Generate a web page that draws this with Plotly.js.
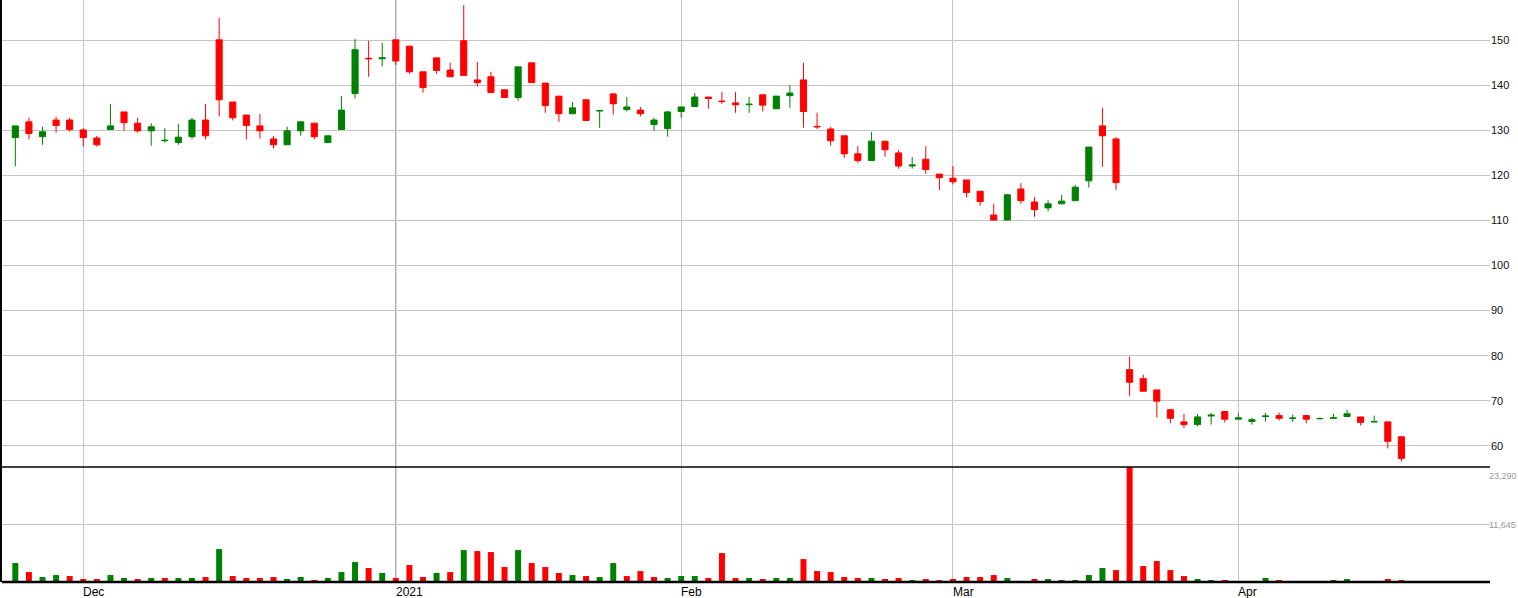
<!DOCTYPE html>
<html>
<head>
<meta charset="utf-8">
<script src="https://cdn.plot.ly/plotly-3.0.1.min.js"></script>
<style>html,body{margin:0;padding:0;background:#fff;}#chart{width:1518px;height:598px;}</style>
</head>
<body>
<div id="chart"></div>
<script>
var dates = [
 '2020-11-24','2020-11-25','2020-11-26','2020-11-27','2020-11-30',
 '2020-12-01','2020-12-02','2020-12-03','2020-12-04','2020-12-07','2020-12-08','2020-12-09','2020-12-10','2020-12-11',
 '2020-12-14','2020-12-15','2020-12-16','2020-12-17','2020-12-18','2020-12-21','2020-12-22','2020-12-23','2020-12-24',
 '2020-12-25','2020-12-28','2020-12-29','2020-12-30','2020-12-31',
 '2021-01-01','2021-01-04','2021-01-05','2021-01-06','2021-01-07','2021-01-08','2021-01-11','2021-01-12','2021-01-13',
 '2021-01-14','2021-01-15','2021-01-18','2021-01-19','2021-01-20','2021-01-21','2021-01-22','2021-01-25','2021-01-26',
 '2021-01-27','2021-01-28','2021-01-29',
 '2021-02-01','2021-02-02','2021-02-03','2021-02-04','2021-02-05','2021-02-08','2021-02-09','2021-02-10','2021-02-11',
 '2021-02-12','2021-02-15','2021-02-16','2021-02-17','2021-02-18','2021-02-19','2021-02-22','2021-02-23','2021-02-24',
 '2021-02-25','2021-02-26',
 '2021-03-01','2021-03-02','2021-03-03','2021-03-04','2021-03-05','2021-03-08','2021-03-09','2021-03-10','2021-03-11',
 '2021-03-12','2021-03-15','2021-03-16','2021-03-17','2021-03-22','2021-03-23','2021-03-24','2021-03-25','2021-03-26',
 '2021-03-29','2021-03-30','2021-03-31',
 '2021-04-01','2021-04-02','2021-04-05','2021-04-06','2021-04-07','2021-04-08','2021-04-09','2021-04-12','2021-04-13',
 '2021-04-14','2021-04-15','2021-04-16','2021-04-19'
];

var openP = [
 128.4,131.9,128.6,132.3,132.3,130.1,128.3,130.2,134.1,131.6,129.9,127.7,127.3,128.6,132.3,150.1,136.3,133.4,131.0,128.1,
 126.8,129.9,131.6,127.3,130.2,138.2,146.0,145.9,150.1,148.7,143.0,146.1,143.4,149.9,141.2,141.9,139.0,137.3,145.0,140.5,
 137.6,133.7,136.8,134.3,138.1,134.6,134.5,131.3,130.4,134.2,135.3,137.4,136.5,136.1,135.7,137.9,134.8,137.7,141.2,130.9,
 130.3,128.8,124.8,123.3,127.6,125.0,122.1,123.6,120.3,119.4,119.0,116.5,111.2,110.1,117.0,114.1,112.8,113.7,114.4,118.8,
 131.0,128.1,76.9,74.9,72.4,68.0,65.3,64.7,66.6,67.6,65.9,65.4,66.5,66.7,66.05,66.7,66.0,66.1,66.5,66.4,
 65.3,65.3,62.0
];
var highP = [
 131.0,132.8,130.8,133.0,132.8,130.5,128.8,135.9,134.1,132.8,131.6,130.5,131.4,132.8,135.9,155.0,136.3,133.4,133.6,128.8,
 130.8,131.9,131.6,128.8,137.6,150.3,149.9,149.4,150.1,148.7,143.0,146.1,145.0,157.8,145.2,143.0,139.0,144.1,145.0,140.5,
 137.6,136.3,136.8,134.5,138.3,137.4,135.2,132.8,134.3,135.2,138.3,137.4,138.5,138.5,137.4,137.9,137.6,140.1,145.0,133.9,
 130.8,128.8,126.5,129.6,127.6,125.6,124.1,126.5,120.3,122.1,119.0,116.5,113.7,115.9,118.3,115.2,114.5,115.7,117.9,126.3,
 135.0,128.5,79.8,75.8,72.4,68.2,67.1,67.1,67.3,67.6,67.3,66.2,67.3,67.3,66.9,66.7,66.3,67.1,68.0,66.4,
 66.7,65.3,62.0
];
var lowP = [
 122.0,128.0,126.8,129.5,129.7,126.4,126.4,130.2,129.9,129.5,126.6,127.3,126.8,128.0,128.0,133.1,132.2,128.0,128.2,126.0,
 126.8,128.8,128.0,127.3,130.2,137.1,141.9,144.2,144.5,142.6,138.4,142.6,141.9,142.2,139.7,138.4,137.3,136.6,140.6,133.9,
 131.9,133.7,132.2,130.6,133.5,134.2,133.1,129.9,128.6,132.8,135.3,134.8,135.9,133.9,133.9,134.2,134.8,135.0,130.6,130.3,
 126.6,123.9,122.8,123.3,124.2,121.5,121.5,120.4,116.8,118.0,115.1,113.3,110.1,110.1,113.7,110.8,112.0,113.7,114.4,117.3,
 121.9,116.8,71.0,72.1,66.3,65.0,63.9,64.3,64.7,65.2,65.9,64.7,65.4,65.6,65.3,65.0,65.9,66.1,66.5,64.5,
 65.3,59.4,56.5
];
var closeP = [
 131.0,129.3,129.7,131.1,130.2,128.4,126.8,131.0,131.7,129.9,130.8,127.8,128.5,132.3,128.8,136.8,132.8,131.1,129.9,126.8,
 129.9,131.9,128.6,128.8,134.5,147.9,145.9,146.1,145.4,143.0,139.5,143.3,141.9,142.2,140.6,138.4,137.3,144.1,140.6,135.5,
 133.7,135.0,132.2,134.4,135.9,135.2,133.7,132.3,134.1,135.2,137.4,137.1,136.4,135.7,135.8,135.6,137.6,138.3,134.2,130.8,
 127.7,124.8,123.3,127.6,125.7,122.1,122.3,121.3,119.5,118.6,116.2,114.2,110.1,115.7,114.4,112.4,113.7,114.3,117.4,126.3,
 128.8,118.4,74.1,72.1,69.9,66.1,64.7,66.4,66.8,65.9,66.2,65.8,66.6,66.1,66.15,65.9,66.05,66.2,67.1,65.2,
 65.35,61.0,57.2
];
var volume = [
 3840,2020,1010,1410,1210,610,610,1410,810,610,810,810,810,810,1010,6660,1210,810,810,1010,
 610,1010,400,810,2020,4040,2830,1820,810,3430,1010,1820,2020,6460,6260,6060,3030,6460,3840,3030,
 1820,1410,1210,1010,3840,1210,2220,1010,810,1210,1210,810,5860,810,810,610,810,810,4640,2220,
 2020,1010,810,810,610,810,400,610,400,610,1010,1010,1410,810,200,610,610,400,400,1410,
 2830,2420,23600,3230,4240,2420,1210,610,400,400,200,200,810,400,200,200,200,400,610,200,
 0,610,400
];

var monthStarts = ['2020-12-01','2021-01-01','2021-02-01','2021-03-01','2021-04-01'];
var monthLabels = ['Dec','2021','Feb','Mar','Apr'];
var priceTicks = [60,70,80,90,100,110,120,130,140,150];
var volTickVals = [11645, 23290];
var volTickText = ['11,645', '23,290'];

var GREEN = '#008000', RED = '#ff0000';
var volColors = closeP.map(function(c, i){ return (i === 0 || c >= closeP[i-1]) ? GREEN : RED; });

var candles = {
  type: 'candlestick', x: dates, open: openP, high: highP, low: lowP, close: closeP,
  xaxis: 'x', yaxis: 'y', whiskerwidth: 0, hoverinfo: 'none',
  increasing: {line: {color: GREEN, width: 1}, fillcolor: GREEN},
  decreasing: {line: {color: RED, width: 1}, fillcolor: RED}
};
var vol = {
  type: 'bar', x: dates, y: volume, xaxis: 'x', yaxis: 'y2', width: 0.44,
  marker: {color: volColors, line: {width: 0}}, hoverinfo: 'none'
};

var volDomTop = (582 - 467) / 582;
var FONT = 'Liberation Sans, Arial, sans-serif';
var annotations = monthStarts.map(function(d, i){
  return {x: dates.indexOf(d), xref: 'x', y: 0, yref: 'paper', yanchor: 'top', xanchor: 'left',
          yshift: -1, xshift: -2, text: monthLabels[i], showarrow: false,
          font: {family: FONT, size: 12, color: '#000'}};
});
annotations.push({x: 1, xref: 'paper', y: volTickVals[1], yref: 'y2', xanchor: 'left', yanchor: 'top',
  xshift: -3, yshift: -2, text: volTickText[1], showarrow: false,
  font: {family: FONT, size: 9, color: '#999'}});
annotations.push({x: 1, xref: 'paper', y: volTickVals[0], yref: 'y2', xanchor: 'left', yanchor: 'middle',
  xshift: -3, yshift: 0, text: volTickText[0], showarrow: false,
  font: {family: FONT, size: 9, color: '#999'}});

var gridStarts = [monthStarts[0], monthStarts[2], monthStarts[3], monthStarts[4]];
var layout = {
  width: 1518, height: 598,
  margin: {l: 2, r: 28, t: 0, b: 16, pad: 0},
  paper_bgcolor: '#fff', plot_bgcolor: '#fff',
  showlegend: false,
  boxgap: 0.55, boxgroupgap: 0,
  xaxis: {type: 'category', range: [-0.98, 108.52], anchor: 'y2',
    tickvals: gridStarts, showgrid: true, gridcolor: '#c4c4c4', gridwidth: 1,
    showticklabels: false, ticks: '', showline: false, zeroline: false,
    rangeslider: {visible: false}},
  yaxis: {domain: [volDomTop, 1], range: [55.29, 158.94], side: 'right',
    tickvals: priceTicks, gridcolor: '#c4c4c4', gridwidth: 1, ticks: '',
    showline: false, zeroline: false,
    tickfont: {family: FONT, size: 11, color: '#111'}},
  yaxis2: {domain: [0, volDomTop], range: [0, 23290], side: 'right',
    tickvals: [volTickVals[0]], showticklabels: false, gridcolor: '#c4c4c4', gridwidth: 1,
    ticks: '', showline: false, zeroline: false},
  shapes: [
    {type: 'line', xref: 'x', yref: 'paper', x0: dates.indexOf(monthStarts[1]), x1: dates.indexOf(monthStarts[1]),
      y0: 0, y1: 1, line: {color: '#8a8a8a', width: 1}, layer: 'below'},
    {type: 'line', xref: 'paper', yref: 'paper', x0: -0.0007, x1: -0.0007, y0: 0, y1: 1, line: {color: '#000', width: 2}},
    {type: 'line', xref: 'paper', yref: 'paper', x0: 0, x1: 1, y0: volDomTop, y1: volDomTop, line: {color: '#000', width: 1.5}},
    {type: 'line', xref: 'paper', yref: 'paper', x0: 0, x1: 1, y0: 0, y1: 0, line: {color: '#000', width: 2.5}}
  ],
  annotations: annotations
};

Plotly.newPlot('chart', [vol, candles], layout, {staticPlot: true, displayModeBar: false});
</script>
</body>
</html>
